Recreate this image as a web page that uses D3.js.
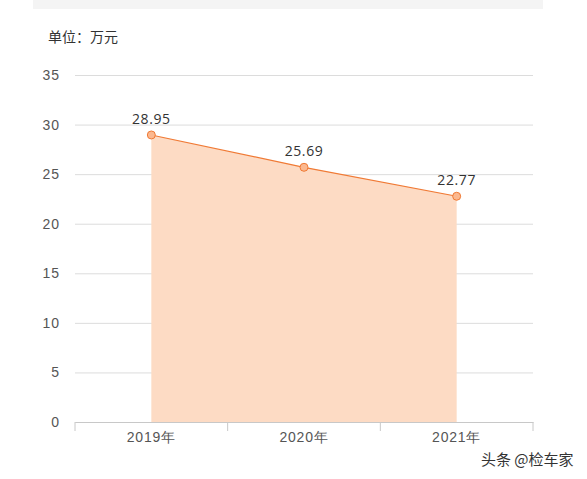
<!DOCTYPE html>
<html>
<head>
<meta charset="utf-8">
<script src="https://cdn.jsdelivr.net/npm/d3@7/dist/d3.min.js"></script>
<style>
  body { margin: 0; background: #fff; }
  svg { display: block; font-family: "Open Sans", "Noto Sans CJK SC", sans-serif; }
</style>
</head>
<body>
<svg id="chart" width="587" height="479"></svg>
<script>
// chart data
var years = ['2019年', '2020年', '2021年'];
var prices = [28.95, 25.69, 22.77];
var yTicks = [0, 5, 10, 15, 20, 25, 30, 35];

var svg = d3.select('#chart');
// note: "top" is taken by window.top, so use plot* names
var plotLeft = 75, plotRight = 533, plotTop = 75, plotBottom = 422;

// gray band at top
svg.append('rect')
    .attr('x', 33).attr('y', 0)
    .attr('width', 510).attr('height', 9)
    .attr('fill', '#f4f4f4');

svg.append('text')
    .attr('x', 48).attr('y', 42)
    .attr('font-size', 14)
    .attr('fill', '#333')
    .text('单位：万元');

var x = d3.scaleBand().domain(years).range([plotLeft, plotRight]);
var y = d3.scaleLinear().domain([0, 35]).range([plotBottom, plotTop]);

// grid lines + y labels
var yAxis = svg.append('g')
    .attr('transform', 'translate(' + plotLeft + ',0)')
    .call(d3.axisLeft(y).tickValues(yTicks).tickSize(-(plotRight - plotLeft)).tickPadding(15));
yAxis.select('.domain').remove();
yAxis.selectAll('line').attr('stroke', '#dcdcdc');
yAxis.selectAll('text')
    .attr('font-size', 14)
    .attr('letter-spacing', 1)
    .attr('fill', '#555');

// area + line
var cx = function(d, i) { return x(years[i]) + x.bandwidth() / 2; };
svg.append('path')
    .datum(prices)
    .attr('fill', '#fddbc4')
    .attr('d', d3.area().x(cx).y0(y(0)).y1(function(d) { return y(d); }));

svg.append('path')
    .datum(prices)
    .attr('fill', 'none')
    .attr('stroke', '#f07a35')
    .attr('stroke-width', 1.2)
    .attr('d', d3.line().x(cx).y(function(d) { return y(d); }));

// x axis
var xAxis = svg.append('g')
    .attr('transform', 'translate(0,' + plotBottom + ')')
    .call(d3.axisBottom(x).tickSize(0).tickPadding(10));
xAxis.select('.domain').attr('stroke', '#c8c8c8');
xAxis.selectAll('text')
    .attr('font-size', 14)
    .attr('letter-spacing', 0.8)
    .attr('fill', '#555');
xAxis.selectAll('.sep')
    .data(d3.range(years.length + 1))
    .enter().append('line')
    .attr('class', 'sep')
    .attr('x1', function(i) { return plotLeft + i * x.step(); })
    .attr('x2', function(i) { return plotLeft + i * x.step(); })
    .attr('y1', 0).attr('y2', 9)
    .attr('stroke', '#c8c8c8');

// points and labels
svg.selectAll('circle.pt')
    .data(prices)
    .enter().append('circle')
    .attr('class', 'pt')
    .attr('cx', cx)
    .attr('cy', function(d) { return y(d); })
    .attr('r', 4)
    .attr('fill', '#fbb88f')
    .attr('stroke', '#f07a35')
    .attr('stroke-width', 1);

svg.selectAll('text.val')
    .data(prices)
    .enter().append('text')
    .attr('class', 'val')
    .attr('x', cx)
    .attr('y', function(d) { return y(d) - 11; })
    .attr('text-anchor', 'middle')
    .attr('font-size', 14)
    .attr('letter-spacing', 0.6)
    .attr('fill', '#333')
    .text(function(d) { return d.toFixed(2); });

// watermark
svg.append('text')
    .attr('x', 481).attr('y', 465)
    .attr('font-size', 15)
    .attr('fill', '#333')
    .attr('font-family', '"Noto Sans CJK SC", sans-serif')
    .text('头条 @检车家');
</script>
</body>
</html>
